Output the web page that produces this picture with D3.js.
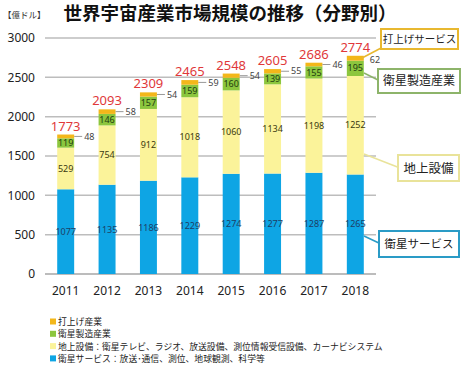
<!DOCTYPE html>
<html><head><meta charset="utf-8">
<script src="https://cdn.jsdelivr.net/npm/d3@7"></script>
<style>body{margin:0;background:#fff}svg{display:block}</style>
</head><body>
<svg id="c" width="464" height="368"></svg>
<script>
const years = ["2011","2012","2013","2014","2015","2016","2017","2018"];
const satService = [1077,1135,1186,1229,1274,1277,1287,1265];
const ground = [529,754,912,1018,1060,1134,1198,1252];
const satMfg = [119,146,157,159,160,139,155,195];
const launch = [48,58,54,59,54,55,46,62];
const totals = [1773,2093,2309,2465,2548,2605,2686,2774];
const yTicks = [0,500,1000,1500,2000,2500,3000];
const seriesKeys = ["sat","ground","mfg","launch"];
const colors = {sat:"#0ea5e4", ground:"#fbf39a", mfg:"#8cc63e", launch:"#f3b71a"};
const legendItems = [
  ["launch","打上げ産業"],
  ["mfg","衛星製造産業"],
  ["ground","地上設備：衛星テレビ、ラジオ、放送設備、測位情報受信設備、カーナビシステム"],
  ["sat","衛星サービス：放送･通信、測位、地球観測、科学等"]
];
const callouts = [
  {key:"launch", text:"打上げサービス", border:"#e8b830", x:381, y:29, w:77, h:20, ax:362, ay:58, fs:10.5},
  {key:"mfg", text:"衛星製造産業", border:"#8db46a", x:378, y:69, w:82, h:24, ax:364, ay:73, fs:12},
  {key:"ground", text:"地上設備", border:"#e9e39a", x:398, y:155, w:61, h:26, ax:364, ay:154, fs:12.5},
  {key:"sat", text:"衛星サービス", border:"#2a9bc6", x:379, y:231, w:80, h:26, ax:364, ay:236, fs:11.5}
];

const rows = years.map((y,i)=>({year:y, sat:satService[i], ground:ground[i], mfg:satMfg[i], launch:launch[i], total:totals[i]}));
const svg = d3.select("#c");
const numFont = "'Noto Sans', 'Liberation Sans', sans-serif";
const jpFont = "'Noto Sans CJK JP', sans-serif";

const x = d3.scaleBand().domain(years).range([45,376]).paddingInner(0.59).paddingOuter(0.295);
const y = d3.scaleLinear().domain([0,3000]).range([274,38]);

// title
svg.append("text").attr("x",230).attr("y",20).attr("text-anchor","middle")
  .attr("font-family",jpFont).attr("font-weight","bold").attr("font-size",18.5).attr("fill","#111")
  .text("世界宇宙産業市場規模の推移（分野別）");
svg.append("text").attr("x",3).attr("y",18).attr("font-family",jpFont).attr("font-size",8.5).attr("fill","#333")
  .text("【億ドル】");

// grid
const grid = svg.append("g");
grid.selectAll("line").data(yTicks).join("line")
  .attr("x1",45).attr("x2",376).attr("y1",d=>y(d)).attr("y2",d=>y(d))
  .attr("stroke",d=>d===0?"#a6a6a6":"#bdbdbd").attr("stroke-width",1.5);

// y axis labels
const yAxis = d3.axisLeft(y).tickValues(yTicks).tickFormat(d3.format("d")).tickSize(0).tickPadding(0);
const gy = svg.append("g").attr("transform","translate(35,0)").call(yAxis);
gy.select(".domain").remove();
gy.selectAll("text").attr("font-family",numFont).attr("font-size",12).attr("fill","#222");

// x axis labels
const xAxis = d3.axisBottom(x).tickSize(0).tickPadding(0);
const gx = svg.append("g").attr("transform","translate(0,284)").call(xAxis);
gx.select(".domain").remove();
gx.selectAll("text").attr("font-family",numFont).attr("font-size",12).attr("fill","#222").attr("dy","0.9em");

// stacks
const stack = d3.stack().keys(seriesKeys)(rows);
const g = svg.append("g");
stack.forEach(layer=>{
  g.selectAll(null).data(layer).join("rect")
    .attr("x",d=>x(d.data.year)).attr("width",x.bandwidth())
    .attr("y",d=>y(d[1])).attr("height",d=>y(d[0])-y(d[1]))
    .attr("fill",colors[layer.key]);
});

// value labels inside (sat, ground, mfg)
stack.slice(0,3).forEach(layer=>{
  g.selectAll(null).data(layer).join("text")
    .attr("x",d=>x(d.data.year)+x.bandwidth()/2)
    .attr("y",d=>(y(d[0])+y(d[1]))/2).attr("dy","0.35em")
    .attr("text-anchor","middle").attr("font-family",numFont).attr("font-size",9)
    .attr("fill", layer.key==="sat" ? "#1d3f66" : (layer.key==="mfg" ? "#1e3d10" : "#3a3a10"))
    .text(d=>d.data[layer.key]);
});

// launch labels with leader lines
const launchLayer = stack[3];
launchLayer.forEach((d,i)=>{
  const bx = x(d.data.year)+x.bandwidth();
  const my = (y(d[0])+y(d[1]))/2;
  if(i<7){
    svg.append("line").attr("x1",bx).attr("x2",bx+8).attr("y1",my).attr("y2",my)
      .attr("stroke","#999").attr("stroke-width",1);
    svg.append("text").attr("x",bx+10).attr("y",my).attr("dy","0.35em")
      .attr("font-family",numFont).attr("font-size",9).attr("fill","#444").text(d.data.launch);
  } else {
    svg.append("text").attr("x",bx+6).attr("y",my+2).attr("dy","0.35em")
      .attr("font-family",numFont).attr("font-size",9).attr("fill","#444").text(d.data.launch);
  }
});

// totals
g.selectAll(null).data(rows).join("text")
  .attr("x",d=>x(d.year)+x.bandwidth()/2).attr("y",d=>y(d.total)-4)
  .attr("text-anchor","middle").attr("font-family",numFont).attr("font-size",13)
  .attr("fill","#e0383a").text(d=>d.total);

// callouts
callouts.forEach(c=>{
  svg.append("line").attr("x1",c.ax).attr("y1",c.ay).attr("x2",c.x+2).attr("y2",c.y+c.h/2+ (c.key==="launch"?8:0))
    .attr("stroke",c.border).attr("stroke-width",1.5);
  svg.append("rect").attr("x",c.x).attr("y",c.y).attr("width",c.w).attr("height",c.h)
    .attr("fill","#fff").attr("stroke",c.border).attr("stroke-width",2);
  svg.append("text").attr("x",c.x+c.w/2).attr("y",c.y+c.h/2).attr("dy","0.36em")
    .attr("text-anchor","middle").attr("font-family",jpFont).attr("font-size",c.fs).attr("fill","#222").text(c.text);
});

// legend
const lg = svg.append("g");
legendItems.forEach((it,i)=>{
  const ly = 322 + i*12.3;
  lg.append("rect").attr("x",50).attr("y",ly-3.5).attr("width",6).attr("height",6).attr("fill",colors[it[0]]);
  lg.append("text").attr("x",58).attr("y",ly).attr("dy","0.35em").attr("font-family",jpFont)
    .attr("font-size",8.8).attr("fill","#222").text(it[1]);
});
</script>
</body></html>
